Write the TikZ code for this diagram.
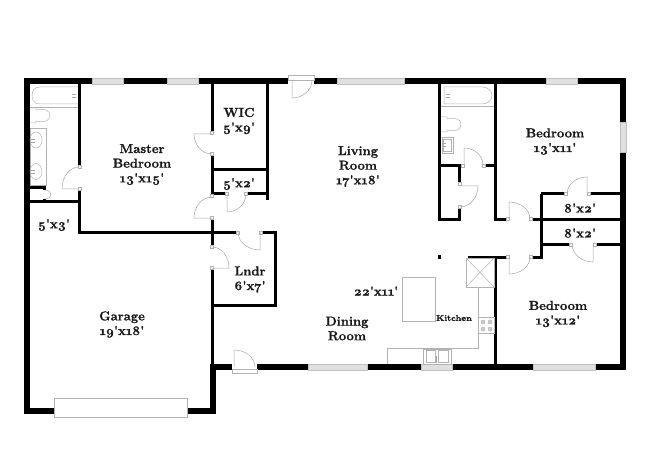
\documentclass[tikz,border=0pt]{standalone}
\usepackage{fontspec}
\setmainfont{Latin Modern Roman}[Numbers=OldStyle,Ligatures=TeXOff,BoldFeatures={FakeBold=1.2}]
\tikzset{
  wall/.style={line width=3pt,line cap=butt},
  outer/.style={line width=6pt,line cap=butt},
  door/.style={draw=black!35,line width=.5pt},
  fix/.style={draw=black!30,line width=.5pt},
  win/.style={draw=black!25,fill=black!12,line width=.5pt},
  room/.style={font=\fontsize{13}{14.6}\selectfont\bfseries,align=center,text=black!90},
}
\begin{document}
\begin{tikzpicture}[x=1pt,y=-1pt]
\useasboundingbox (0,0) rectangle (650,473);
% outer walls
\draw[outer] (24,81)--(626,81);
\draw[outer] (623,81)--(623,370);
\draw[outer] (213,367)--(626,367);
\draw[outer] (27,81)--(27,413.5);
\draw[outer] (24,410.5)--(216,410.5);
\draw[outer] (213,364)--(213,413.5);
% inner walls
\draw[wall] (79.5,81)--(79.5,232.5)--(237,232.5);
\draw[wall] (30,187.5)--(46,187.5);
\draw[wall] (44.5,187.5)--(44.5,201.5);
\draw[wall] (30,201.5)--(79.5,201.5);
\draw[wall] (212,81)--(212,367);
\draw[wall] (212,170)--(267.5,170);
\draw[wall] (267.5,81)--(267.5,200);
\draw[wall] (212,194)--(267.5,194);
\draw[wall] (262,232)--(275,232)--(275,305.5)--(212,305.5);
\draw[wall] (439.5,81)--(439.5,219)--(459.5,219)--(459.5,165.5);
\draw[wall] (439.5,165.5)--(495.5,165.5);
\draw[wall] (495.5,81)--(495.5,219)--(620,219);
\draw[wall] (541,194)--(541,257)--(531,257);
\draw[wall] (541,194)--(620,194);
\draw[wall] (541,244.5)--(620,244.5);
\draw[wall] (468,257)--(506,257);
\draw[wall] (495.5,257)--(495.5,364);
\fill (438,255) rectangle (441,259);
% openings and windows
\foreach \xa/\xb in {92/123,167/198,337/404,546/577}
  \draw[win] (\xa,78) rectangle (\xb,84);
\foreach \xa/\xb in {308/367,421/452,533/595}
  \draw[win] (\xa,364) rectangle (\xb,370);
\draw[win] (620,122) rectangle (626,152);
\fill[white,draw=black!30,line width=.5pt] (54,398) rectangle (187,417);
\fill[white] (76,167) rectangle (81.5,189);
\fill[white] (208,134) rectangle (216,154);
\fill[white] (208,197) rectangle (216,218);
\fill[white] (208,247) rectangle (216,268);
\fill[white] (227,192) rectangle (246,197);
\fill[white] (238,230) rectangle (262,235);
\fill[white] (463,163) rectangle (484,168);
\fill[white] (457,184) rectangle (462,207);
\fill[white] (507,217) rectangle (531,221);
\fill[white] (566,192) rectangle (589,197);
\fill[white] (571,242) rectangle (595,247);
\fill[white] (507,255) rectangle (531,259);
\fill[white] (42,190) rectangle (47,199);
\fill[white] (288,75) rectangle (314,84.5);
\draw[fix] (288,75) rectangle (314,80);
\fill[white] (232,363.5) rectangle (257,373);
\draw[fix] (232,369) rectangle (257,373);
% jambs
\foreach \jx/\jy in {79.5/167,79.5/189,212/133,212/154,212/196,212/218,212/247,212/268,%
  227/194,246/194,238/232.5,261/232.5,463/165.5,484/165.5,459.5/184,459.5/207,%
  508/219,530.5/219,566/194,589/194,571/244.5,595/244.5,508/257,531/257}
  \draw[fix,fill=white] (\jx-1.5,\jy-1.5) rectangle (\jx+1.5,\jy+1.5);
% doors
\draw[door] (79,189)--++(-17,0) arc[start angle=180,end angle=270,x radius=17,y radius=22];
\draw[door] (212,134)--++(-18,0) arc[start angle=180,end angle=90,x radius=18,y radius=20];
\draw[door] (212,218)--++(-18,0) arc[start angle=180,end angle=270,x radius=18,y radius=21];
\draw[door] (227,194)--++(0,18) arc[start angle=90,end angle=0,x radius=19,y radius=18];
\draw[door] (260,232)--++(0,18) arc[start angle=90,end angle=180,x radius=22,y radius=18];
\draw[door] (212,268)--++(17,0) arc[start angle=0,end angle=-90,x radius=17,y radius=21];
\draw[door] (234,367)--++(0,-17) arc[start angle=270,end angle=360,x radius=21,y radius=17];
\draw[door] (292,80)--++(0,18) arc[start angle=90,end angle=0,x radius=20,y radius=18];
\draw[door] (464,165)--++(0,-17) arc[start angle=270,end angle=360,x radius=19,y radius=17];
\draw[door] (460,186)--++(18,0) arc[start angle=0,end angle=90,x radius=18,y radius=21];
\draw[door] (509,219)--++(0,-17) arc[start angle=270,end angle=360,x radius=21,y radius=17];
\draw[door] (587,194)--++(0,-17) arc[start angle=270,end angle=180,x radius=20,y radius=17];
\draw[door] (593,244)--++(0,18) arc[start angle=90,end angle=180,x radius=21,y radius=18];
\draw[door] (509,257)--++(0,17) arc[start angle=90,end angle=0,x radius=21,y radius=17];
\draw[door] (45,190) arc[start angle=-90,end angle=90,x radius=6,y radius=4.5];
% master bath
\draw[fix] (78,87)--(40,87) .. controls (34,87) and (32,91) .. (32,95.5) .. controls (32,100) and (34,104) .. (40,104)--(78,104);
\draw[fix] (30,107)--(78,107);
\draw[door] (72,94)--(76,94) (72,97)--(76,97);
\draw[fix] (30,108)--(36,108)--(36,110) .. controls (46,108) and (50,111) .. (50,115.5) .. controls (50,120) and (46,123) .. (36,121)--(36,123)--(30,123);
\draw[fix] (30,128) rectangle (46,185);
\draw[fix] (36,140) ellipse (6 and 8) (36,171.5) ellipse (6 and 8);
\draw[door] (31,139)--(35,139) (31,142)--(35,142) (31,170)--(35,170) (31,173)--(35,173);
% hall bath
\draw[fix] (444,87)--(482,87) .. controls (488,87) and (492,91) .. (492,95.5) .. controls (492,100) and (488,104) .. (482,104)--(444,104)--cycle;
\draw[fix] (441,106)--(494,106);
\draw[door] (446,94)--(450,94) (446,97)--(450,97);
\draw[fix] (441,117)--(447,117)--(447,119) .. controls (457,117) and (461,120) .. (461,124.5) .. controls (461,129) and (457,132) .. (447,130)--(447,132)--(441,132);
\draw[fix] (442,137) rectangle (453,153);
\draw[fix] (443.5,139) rectangle (451.5,151);
\draw[door] (442,143)--(446,143) (442,146)--(446,146);
% kitchen
\draw[fix] (402,277) rectangle (435,321);
\draw[fix] (466,258) rectangle (494,287);
\draw[fix] (466,258)--(494,287) (494,258)--(466,287);
\draw[fix] (494,287)--(478,287)--(478,348)--(387,348)--(387,364);
\draw[fix] (478,317) rectangle (494,333);
\foreach \cx/\cy in {483/322,490/322,483/329,490/329}
  \draw[fix,fill=black!20] (\cx,\cy) circle (2);
\draw[fix] (423,349) rectangle (451,364);
\draw[fix] (426,350) rectangle (435,362) (438,350) rectangle (448,362);
\draw[door,line width=1pt] (436.5,356)--(436.5,363);
% labels
\node[room] (master) at (142,164.5) {Master\\Bedroom\\13'x15'};
\node[room] (wic) at (239,121) {WIC\\5'x9'};
\node[room] (linen) at (239,184) {5'x2'};
\node[room] (hall) at (54,225) {5'x3'};
\node[room] (garage) at (122,324.5) {Garage\\19'x18'};
\node[room] (lndr) at (250,279.5) {Lndr\\6'x7'};
\node[room] (living) at (358,166.5) {Living\\Room\\17'x18'};
\node[room] (bedb) at (555,141.5) {Bedroom\\13'x11'};
\node[room] (closa) at (580,208) {8'x2'};
\node[room] (closb) at (580,233) {8'x2'};
\node[room] (kitsize) at (376,291) {22'x11'};
\node[room] (dining) at (347,328.5) {Dining\\Room};
\node[room,font=\fontsize{8.5}{10}\selectfont\bfseries] (kitchen) at (454,318) {Kitchen};
\node[room] (bedc) at (558,314) {Bedroom\\13'x12'};
\end{tikzpicture}
\end{document}
